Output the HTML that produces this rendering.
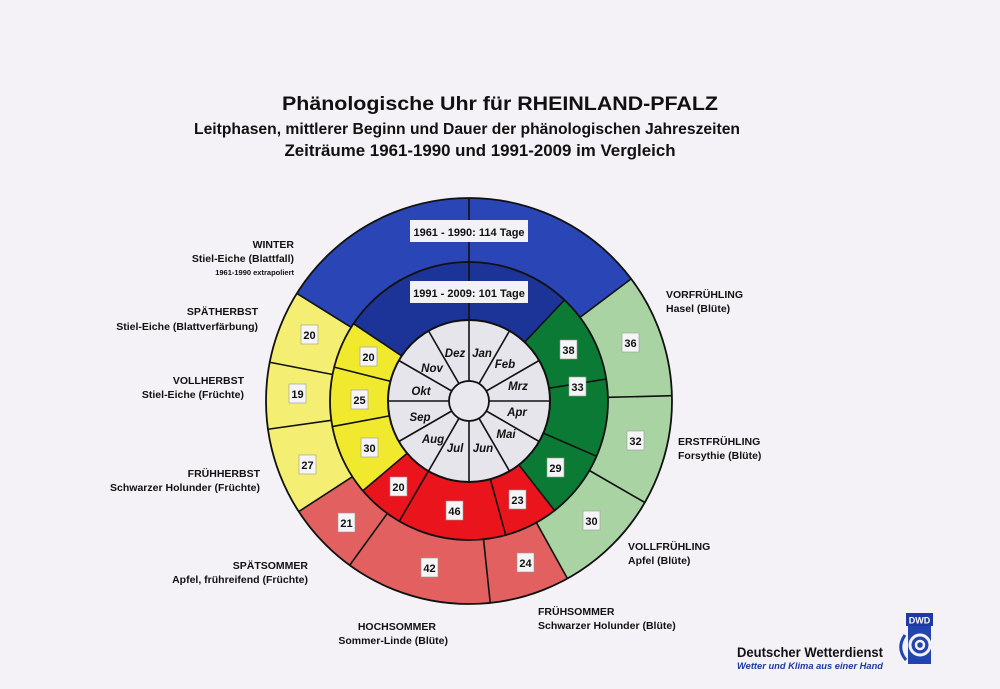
<!DOCTYPE html>
<html><head><meta charset="utf-8"><style>
html,body{margin:0;padding:0;background:#f4f2f6;}
svg{display:block;font-family:"Liberation Sans",sans-serif;}
.l{font-size:10.5px;font-weight:bold;fill:#111;}
.m{font-size:11.5px;font-weight:bold;font-style:italic;fill:#111;text-anchor:middle;}
.n{font-size:11px;font-weight:bold;fill:#111;text-anchor:middle;}
</style></head><body>
<svg width="1000" height="689" viewBox="0 0 1000 689">
<rect width="1000" height="689" fill="#f4f2f6"/>
<text x="500" y="110" font-size="19.5" font-weight="bold" text-anchor="middle" textLength="436" lengthAdjust="spacingAndGlyphs" fill="#111">Phänologische Uhr für RHEINLAND-PFALZ</text>
<text x="467" y="134" font-size="16" font-weight="bold" text-anchor="middle" textLength="546" lengthAdjust="spacingAndGlyphs" fill="#111">Leitphasen, mittlerer Beginn und Dauer der phänologischen Jahreszeiten</text>
<text x="480" y="156" font-size="17" font-weight="bold" text-anchor="middle" textLength="391" lengthAdjust="spacingAndGlyphs" fill="#111">Zeiträume 1961-1990 und 1991-2009 im Vergleich</text>

<g transform="translate(469,401)">
 <g transform="rotate(-90)" fill="none">
  <circle r="171" stroke="#2a46b6" stroke-width="64"/>
  <circle r="171" stroke="#a9d3a3" stroke-width="64" pathLength="360" stroke-dasharray="98 262" stroke-dashoffset="-53"/>
  <circle r="171" stroke="#e2605f" stroke-width="64" pathLength="360" stroke-dasharray="86 274" stroke-dashoffset="-151"/>
  <circle r="171" stroke="#f4ef72" stroke-width="64" pathLength="360" stroke-dasharray="65 295" stroke-dashoffset="-237"/>
  <circle r="110" stroke="#1c3398" stroke-width="58"/>
  <circle r="110" stroke="#0b7a34" stroke-width="58" pathLength="360" stroke-dasharray="98.6 261.4" stroke-dashoffset="-43.4"/>
  <circle r="110" stroke="#e9141c" stroke-width="58" pathLength="360" stroke-dasharray="87.8 272.2" stroke-dashoffset="-142"/>
  <circle r="110" stroke="#f1e92e" stroke-width="58" pathLength="360" stroke-dasharray="74 286" stroke-dashoffset="-229.8"/>
 </g>
 <circle r="81" fill="#e6e5ec" stroke="#111" stroke-width="2"/>
 <circle r="139" fill="none" stroke="#111" stroke-width="1.8"/>
 <circle r="203" fill="none" stroke="#111" stroke-width="1.8"/>
 <g stroke="#111" stroke-width="1.6">
  <line x1="0" y1="-81" x2="0" y2="-203"/>
  <line x1="0" y1="-81" x2="0" y2="-139" transform="rotate(43.4)"/>
  <line x1="0" y1="-81" x2="0" y2="-139" transform="rotate(80.9)"/>
  <line x1="0" y1="-81" x2="0" y2="-139" transform="rotate(113.4)"/>
  <line x1="0" y1="-81" x2="0" y2="-139" transform="rotate(142)"/>
  <line x1="0" y1="-81" x2="0" y2="-139" transform="rotate(164.7)"/>
  <line x1="0" y1="-81" x2="0" y2="-139" transform="rotate(210.1)"/>
  <line x1="0" y1="-81" x2="0" y2="-139" transform="rotate(229.8)"/>
  <line x1="0" y1="-81" x2="0" y2="-139" transform="rotate(259.4)"/>
  <line x1="0" y1="-81" x2="0" y2="-139" transform="rotate(284.1)"/>
  <line x1="0" y1="-81" x2="0" y2="-139" transform="rotate(303.8)"/>
  <line x1="0" y1="-139" x2="0" y2="-203" transform="rotate(53)"/>
  <line x1="0" y1="-139" x2="0" y2="-203" transform="rotate(88.5)"/>
  <line x1="0" y1="-139" x2="0" y2="-203" transform="rotate(120)"/>
  <line x1="0" y1="-139" x2="0" y2="-203" transform="rotate(151)"/>
  <line x1="0" y1="-139" x2="0" y2="-203" transform="rotate(174)"/>
  <line x1="0" y1="-139" x2="0" y2="-203" transform="rotate(216)"/>
  <line x1="0" y1="-139" x2="0" y2="-203" transform="rotate(237)"/>
  <line x1="0" y1="-139" x2="0" y2="-203" transform="rotate(262)"/>
  <line x1="0" y1="-139" x2="0" y2="-203" transform="rotate(281)"/>
  <line x1="0" y1="-139" x2="0" y2="-203" transform="rotate(302)"/>
  <line x1="0" y1="-20" x2="0" y2="-81" transform="rotate(0)"/>
  <line x1="0" y1="-20" x2="0" y2="-81" transform="rotate(30)"/>
  <line x1="0" y1="-20" x2="0" y2="-81" transform="rotate(60)"/>
  <line x1="0" y1="-20" x2="0" y2="-81" transform="rotate(90)"/>
  <line x1="0" y1="-20" x2="0" y2="-81" transform="rotate(120)"/>
  <line x1="0" y1="-20" x2="0" y2="-81" transform="rotate(150)"/>
  <line x1="0" y1="-20" x2="0" y2="-81" transform="rotate(180)"/>
  <line x1="0" y1="-20" x2="0" y2="-81" transform="rotate(210)"/>
  <line x1="0" y1="-20" x2="0" y2="-81" transform="rotate(240)"/>
  <line x1="0" y1="-20" x2="0" y2="-81" transform="rotate(270)"/>
  <line x1="0" y1="-20" x2="0" y2="-81" transform="rotate(300)"/>
  <line x1="0" y1="-20" x2="0" y2="-81" transform="rotate(330)"/>
 </g>
 <circle r="20" fill="#e9e8ee" stroke="#111" stroke-width="1.8"/>
 <text class="m" x="13" y="-44">Jan</text>
 <text class="m" x="36" y="-33">Feb</text>
 <text class="m" x="49" y="-11">Mrz</text>
 <text class="m" x="48" y="15">Apr</text>
 <text class="m" x="37" y="37">Mai</text>
 <text class="m" x="14" y="51">Jun</text>
 <text class="m" x="-14" y="51">Jul</text>
 <text class="m" x="-36" y="42">Aug</text>
 <text class="m" x="-49" y="20">Sep</text>
 <text class="m" x="-48" y="-6">Okt</text>
 <text class="m" x="-37" y="-29">Nov</text>
 <text class="m" x="-14" y="-44">Dez</text>
 <rect x="-59" y="-181" width="118" height="22" fill="#f2f1f5"/>
 <text x="0" y="-165" font-size="11" font-weight="bold" text-anchor="middle" fill="#111">1961 - 1990: 114 Tage</text>
 <rect x="-59" y="-120" width="118" height="22" fill="#f2f1f5"/>
 <text x="0" y="-104" font-size="11" font-weight="bold" text-anchor="middle" fill="#111">1991 - 2009: 101 Tage</text>
 <g fill="#f5f4f6" stroke="#999" stroke-width="0.6">
  <rect x="91" y="-61" width="17" height="19"/><rect x="100" y="-24" width="17" height="19"/><rect x="78" y="57" width="17" height="19"/>
  <rect x="40" y="89" width="17" height="19"/><rect x="-23" y="100" width="17" height="19"/><rect x="-79" y="76" width="17" height="19"/>
  <rect x="-108" y="37" width="17" height="19"/><rect x="-118" y="-11" width="17" height="19"/><rect x="-109" y="-54" width="17" height="19"/>
  <rect x="153" y="-68" width="17" height="19"/>
  <rect x="158" y="30" width="17" height="19"/>
  <rect x="114" y="110" width="17" height="19"/>
  <rect x="48" y="152" width="17" height="19"/>
  <rect x="-48" y="157" width="17" height="19"/>
  <rect x="-131" y="112" width="17" height="19"/>
  <rect x="-170" y="54" width="17" height="19"/>
  <rect x="-180" y="-17" width="17" height="19"/>
  <rect x="-168" y="-76" width="17" height="19"/>
 </g>
 <text class="n" x="99.5" y="-47">38</text>
 <text class="n" x="108.5" y="-10">33</text>
 <text class="n" x="86.5" y="71">29</text>
 <text class="n" x="48.5" y="103">23</text>
 <text class="n" x="-14.5" y="114">46</text>
 <text class="n" x="-70.5" y="90">20</text>
 <text class="n" x="-99.5" y="51">30</text>
 <text class="n" x="-109.5" y="3">25</text>
 <text class="n" x="-100.5" y="-40">20</text>
 <text class="n" x="161.5" y="-54">36</text>
 <text class="n" x="166.5" y="44">32</text>
 <text class="n" x="122.5" y="124">30</text>
 <text class="n" x="56.5" y="166">24</text>
 <text class="n" x="-39.5" y="171">42</text>
 <text class="n" x="-122.5" y="126">21</text>
 <text class="n" x="-161.5" y="68">27</text>
 <text class="n" x="-171.5" y="-3">19</text>
 <text class="n" x="-159.5" y="-62">20</text>
</g>

<g class="l" text-anchor="end">
 <text x="294" y="248">WINTER</text>
 <text x="294" y="262">Stiel-Eiche (Blattfall)</text>
 <text x="294" y="275" font-size="7.5">1961-1990 extrapoliert</text>
 <text x="258" y="315">SPÄTHERBST</text>
 <text x="258" y="330">Stiel-Eiche (Blattverfärbung)</text>
 <text x="244" y="384">VOLLHERBST</text>
 <text x="244" y="398">Stiel-Eiche (Früchte)</text>
 <text x="260" y="477">FRÜHHERBST</text>
 <text x="260" y="491">Schwarzer Holunder (Früchte)</text>
 <text x="308" y="569">SPÄTSOMMER</text>
 <text x="308" y="583">Apfel, frühreifend (Früchte)</text>
 <text x="436" y="630">HOCHSOMMER</text>
 <text x="448" y="644">Sommer-Linde (Blüte)</text>
</g>
<g class="l">
 <text x="666" y="298">VORFRÜHLING</text>
 <text x="666" y="312">Hasel (Blüte)</text>
 <text x="678" y="445">ERSTFRÜHLING</text>
 <text x="678" y="459">Forsythie (Blüte)</text>
 <text x="628" y="550">VOLLFRÜHLING</text>
 <text x="628" y="564">Apfel (Blüte)</text>
 <text x="538" y="615">FRÜHSOMMER</text>
 <text x="538" y="629">Schwarzer Holunder (Blüte)</text>
</g>

<text x="737" y="657" font-size="14" font-weight="bold" fill="#111" textLength="146" lengthAdjust="spacingAndGlyphs">Deutscher Wetterdienst</text>
<text x="737" y="669" font-size="9.5" font-weight="bold" font-style="italic" fill="#1c3aa0" textLength="146" lengthAdjust="spacingAndGlyphs">Wetter und Klima aus einer Hand</text>
<rect x="906" y="613" width="27" height="13" fill="#1c3aa0"/>
<text x="919.5" y="623.5" font-size="9" font-weight="bold" fill="#fff" text-anchor="middle">DWD</text>
<rect x="908" y="626" width="23" height="38" fill="#2244b0"/>
<circle cx="920" cy="645" r="10" fill="none" stroke="#f4f2f6" stroke-width="3"/>
<circle cx="920" cy="645" r="4" fill="none" stroke="#f4f2f6" stroke-width="2.5"/>
<path d="M905 635 Q896 648 906 660" fill="none" stroke="#2244b0" stroke-width="3"/>
</svg>
</body></html>
